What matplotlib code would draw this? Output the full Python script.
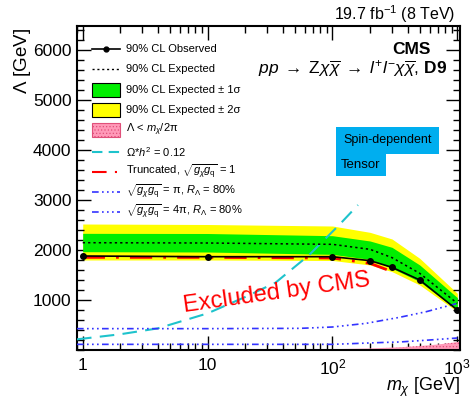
import matplotlib
matplotlib.use("Agg")
import matplotlib.pyplot as plt
from matplotlib.lines import Line2D
from matplotlib.patches import Rectangle
from matplotlib.ticker import FixedLocator, MultipleLocator, FixedFormatter, LogLocator, NullFormatter

plt.rcParams['font.family'] = ['Liberation Sans', 'DejaVu Sans']
plt.rcParams['mathtext.fontset'] = 'custom'
plt.rcParams['mathtext.rm'] = 'Liberation Sans'
plt.rcParams['mathtext.it'] = 'Liberation Sans:italic'
plt.rcParams['mathtext.bf'] = 'Liberation Sans:bold'
plt.rcParams['hatch.color'] = '#E0507A'
plt.rcParams['hatch.linewidth'] = 0.5

# ---------------- data ----------------
mass_lim = [1, 10, 100, 200, 300, 500, 1000]
lam_obs = [1880, 1866, 1866, 1787, 1653, 1400, 800]
lam_exp = [2146, 2140, 2113, 2013, 1847, 1533, 933]
lam_1s_lo = [1966, 1960, 1913, 1813, 1633, 1367, 800]
lam_1s_hi = [2333, 2330, 2286, 2180, 2053, 1700, 1047]
lam_2s_lo = [1800, 1800, 1790, 1700, 1567, 1300, 767]
lam_2s_hi = [2520, 2510, 2480, 2353, 2220, 1833, 1133]

mass_trunc = [1, 10, 100, 200, 300]
lam_trunc = [1853, 1853, 1840, 1733, 1567]

mass_relic = [0.9, 2, 4, 10, 20, 35, 65, 113, 160]
lam_relic = [213, 315, 433, 733, 1060, 1347, 1900, 2500, 2900]

mass_pi = [0.9, 10, 55, 100, 186, 344, 565, 1000]
lam_pi = [427, 427, 433, 460, 533, 653, 767, 933]

mass_4pi = [0.9, 100, 250, 344, 600, 1000]
lam_4pi = [113, 113, 150, 160, 200, 240]

mass_unphys = [100, 200, 300, 400, 500, 600, 700, 800, 900, 1000, 1050]
lam_unphys = [16, 32, 48, 64, 80, 95, 111, 127, 143, 159, 167]

xtick_vals = [1, 10, 100, 1000]
xtick_labels = ['1', '10', '10$^2$', '10$^3$']
ytick_vals = [1000, 2000, 3000, 4000, 5000, 6000]

legend_labels = [
    '90% CL Observed',
    '90% CL Expected',
    '90% CL Expected ± 1σ',
    '90% CL Expected ± 2σ',
    r'$\Lambda$ < $m_\chi$/2π',
    r'$\Omega$*$h^2$ = 0.12',
    r'Truncated, $\sqrt{g_\chi g_\mathrm{q}}$ = 1',
    r'$\sqrt{g_\chi g_\mathrm{q}}$ = π, $R_\Lambda$ = 80%',
    r'$\sqrt{g_\chi g_\mathrm{q}}$ = 4π, $R_\Lambda$ = 80%',
]

# ---------------- plot ----------------
W, H = 472, 398
fig = plt.figure(figsize=(4.72, 3.98), dpi=100)
AX_L, AX_R, AX_T, AX_B = 77, 460, 26, 350
ax = fig.add_axes([AX_L/W, 1-AX_B/H, (AX_R-AX_L)/W, (AX_B-AX_T)/H])

def axx(px):
    return (px - AX_L) / (AX_R - AX_L)

def axy(py):
    return (AX_B - py) / (AX_B - AX_T)

GREEN = '#00EE00'
YELLOW = '#FFFF00'
PINK = '#FF99B8'
CYAN = '#1EC3CC'
BLUE = '#3333FF'
RED = '#FF0000'
dd = (0, (4, 2, 1, 2, 1, 2, 1, 2))

ax.fill_between(mass_lim, lam_2s_lo, lam_2s_hi, color=YELLOW, lw=0, zorder=1)
ax.fill_between(mass_lim, lam_1s_lo, lam_1s_hi, color=GREEN, lw=0, zorder=2)
ax.fill_between(mass_unphys, 0, lam_unphys, facecolor=PINK, edgecolor='#E0507A',
                hatch='.....', lw=0, zorder=2)
ax.plot(mass_lim, lam_exp, color='black', ls=(0, (1.5, 2)), lw=1.1, zorder=4)
ax.plot(mass_trunc, lam_trunc, color=RED, lw=2, ls=(0, (8, 4, 1, 4)), zorder=4)
ax.plot(mass_lim, lam_obs, color='black', lw=1.2, marker='o', ms=4, zorder=5)
ax.plot(mass_relic, lam_relic, color=CYAN, lw=1.5, ls=(0, (7, 4)), zorder=3)
ax.plot(mass_pi, lam_pi, color=BLUE, lw=1.2, ls=dd, zorder=3)
ax.plot(mass_4pi, lam_4pi, color=BLUE, lw=1.2, ls=dd, zorder=3)

ax.set_xscale('log')
ax.set_xlim(0.9, 1050)
ax.set_ylim(0, 6480)
ax.xaxis.set_major_locator(FixedLocator(xtick_vals))
ax.xaxis.set_major_formatter(FixedFormatter(xtick_labels))
ax.xaxis.set_minor_locator(LogLocator(base=10, subs=range(2, 10)))
ax.xaxis.set_minor_formatter(NullFormatter())
ax.yaxis.set_major_locator(FixedLocator(ytick_vals))
ax.yaxis.set_minor_locator(MultipleLocator(200))
ax.tick_params(which='both', direction='in', top=True, right=True, labelsize=12.5)
ax.tick_params(which='major', length=10, width=1)
ax.tick_params(which='minor', length=5, width=1)
ax.tick_params(axis='x', pad=5.5)
ax.tick_params(axis='y', pad=4)
for s in ax.spines.values():
    s.set_linewidth(1.5)

ax.set_ylabel(r'$\Lambda$ [GeV]', fontsize=13.5, loc='top')
ax.yaxis.set_label_coords(axx(33), axy(28))
ax.set_xlabel(r'$m_\chi$ [GeV]', fontsize=13, loc='right')
ax.xaxis.set_label_coords(axx(460), axy(376))

fig.text(455/W, 1-20/H, r'19.7 fb$^{-1}$ (8 TeV)', ha='right', va='baseline', fontsize=11.5)
ax.text(axx(431), axy(49), 'CMS', transform=ax.transAxes, ha='right', va='center',
        fontsize=12.5, fontweight='bold')
ax.text(axx(447), axy(69),
        r'$pp\;\rightarrow\;\mathrm{Z}\chi\overline{\chi}\;\rightarrow\;l^{+}l^{-}\chi\overline{\chi}$, $\mathbf{D9}$',
        transform=ax.transAxes, ha='right', va='center', fontsize=12.5)
ax.text(axx(343), axy(140), 'Spin-dependent', transform=ax.transAxes, ha='left', va='center',
        fontsize=9, bbox=dict(boxstyle='square,pad=0.6', fc='#00AEEF', ec='none'))
ax.text(axx(341), axy(165), 'Tensor', transform=ax.transAxes, ha='left', va='center',
        fontsize=9.5, bbox=dict(boxstyle='square,pad=0.4', fc='#00AEEF', ec='none'))
ax.text(axx(277), axy(293), 'Excluded by CMS', transform=ax.transAxes, ha='center', va='center',
        fontsize=17, color=RED, rotation=8)

# ---------------- legend (drawn in axes coordinates) ----------------
row_y = [49, 69, 90, 110, 130, 152, 172, 191.5, 211.5]
hx0, hx1, tx = 92, 120, 126
styles = [
    dict(kind='line', color='black', lw=1.2, ls='-', marker='o'),
    dict(kind='line', color='black', lw=1.0, ls=(0, (1.5, 2))),
    dict(kind='box', fc=GREEN, ec='black'),
    dict(kind='box', fc=YELLOW, ec='black'),
    dict(kind='box', fc=PINK, ec='#E0507A', hatch='.....'),
    dict(kind='line', color=CYAN, lw=1.5, ls=(0, (5, 3))),
    dict(kind='line', color=RED, lw=1.5, ls=(0, (7, 4, 1, 4))),
    dict(kind='line', color=BLUE, lw=1.2, ls=dd),
    dict(kind='line', color=BLUE, lw=1.2, ls=dd),
]
for yy, st, lab in zip(row_y, styles, legend_labels):
    if st['kind'] == 'line':
        ln = Line2D([axx(hx0), axx(hx1)], [axy(yy), axy(yy)], transform=ax.transAxes,
                    color=st['color'], lw=st['lw'], ls=st['ls'], zorder=6)
        ax.add_line(ln)
        if st.get('marker'):
            ax.add_line(Line2D([axx((hx0 + hx1) / 2)], [axy(yy)], transform=ax.transAxes,
                               color='black', marker='o', ms=3.5, ls='none', zorder=6))
    else:
        rect = Rectangle((axx(hx0), axy(yy + 7)), axx(hx1) - axx(hx0), axy(yy - 7) - axy(yy + 7),
                         transform=ax.transAxes, facecolor=st['fc'], edgecolor=st['ec'],
                         hatch=st.get('hatch'), lw=0.8, zorder=6)
        ax.add_patch(rect)
    ax.text(axx(tx), axy(yy), lab, transform=ax.transAxes, ha='left', va='center',
            fontsize=8, zorder=6)

fig.savefig('out.png', dpi=100)
